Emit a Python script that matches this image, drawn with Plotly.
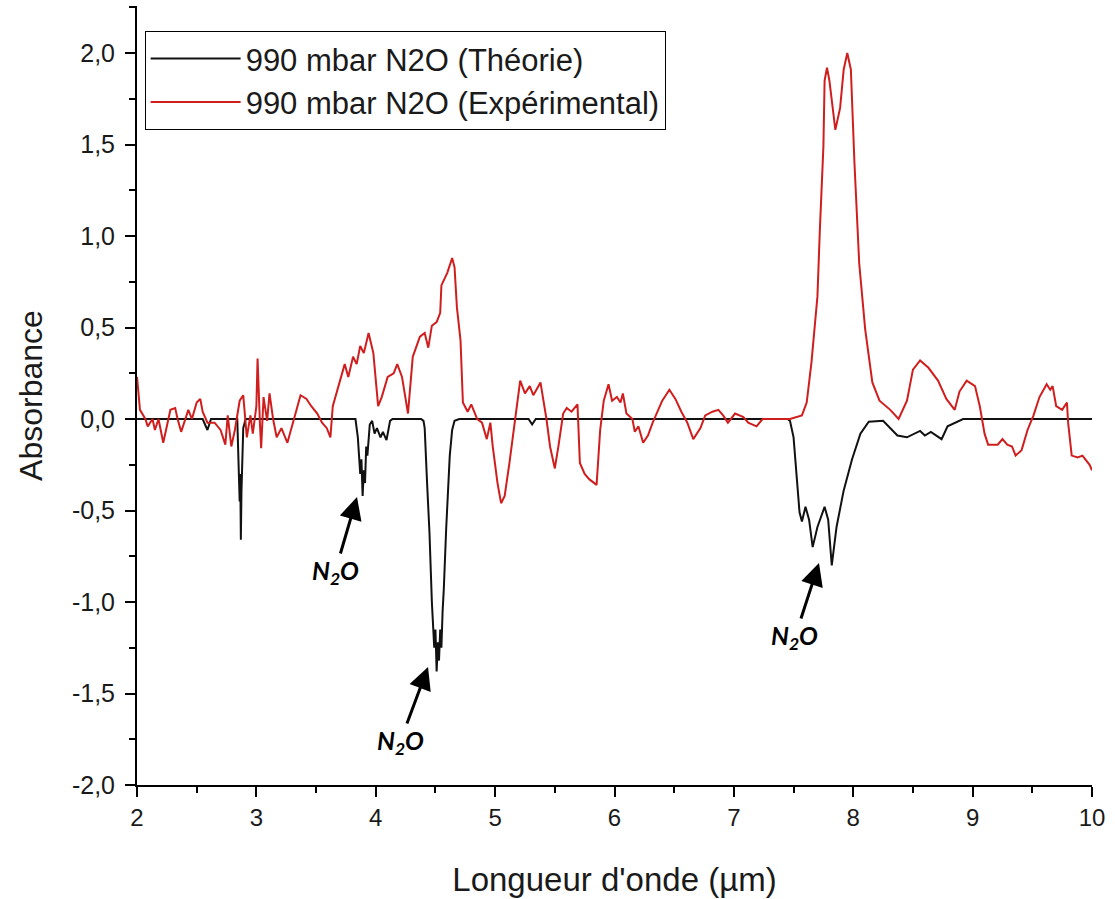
import plotly.graph_objects as go

# ---- data ----
theo_x = [2.00, 2.55, 2.59, 2.62, 2.84, 2.85, 2.86, 2.865, 2.87, 2.875, 2.88, 2.89, 2.91,
          3.83, 3.85, 3.87, 3.88, 3.89, 3.90, 3.91, 3.92, 3.93, 3.95, 3.97, 3.99, 4.01, 4.04,
          4.06, 4.09, 4.12, 4.14, 4.38, 4.40, 4.41, 4.43, 4.45, 4.47, 4.48, 4.49, 4.50, 4.505,
          4.51, 4.52, 4.53, 4.54, 4.55, 4.56, 4.57, 4.59, 4.60, 4.62, 4.64, 4.66, 4.70,
          5.28, 5.31, 5.34, 7.45, 7.47, 7.50, 7.52, 7.55, 7.57, 7.60, 7.63, 7.66, 7.70, 7.76,
          7.79, 7.82, 7.86, 7.92, 7.99, 8.06, 8.13, 8.25, 8.37, 8.45, 8.56, 8.60, 8.65, 8.74,
          8.79, 8.92, 10.0]
theo_y = [0.0, 0.0, -0.06, 0.0, 0.0, -0.20, -0.45, -0.30, -0.66, -0.40, -0.20, -0.05, 0.0,
          0.0, -0.10, -0.30, -0.22, -0.42, -0.28, -0.35, -0.15, -0.20, -0.03, -0.01, -0.08, -0.05, -0.10,
          -0.07, -0.115, -0.01, 0.0, 0.0, -0.01, -0.05, -0.35, -0.62, -1.00, -1.10, -1.25, -1.15, -1.30,
          -1.38, -1.22, -1.32, -1.15, -1.25, -1.05, -0.93, -0.60, -0.44, -0.20, -0.06, -0.01, 0.0,
          0.0, -0.03, 0.0, 0.0, -0.01, -0.10, -0.26, -0.51, -0.56, -0.48, -0.55, -0.70, -0.59, -0.48,
          -0.55, -0.80, -0.59, -0.39, -0.22, -0.08, -0.015, -0.01, -0.09, -0.10, -0.065, -0.09, -0.07, -0.11,
          -0.04, 0.0, 0.0]

exp_x = [2.00, 2.025, 2.07, 2.09, 2.13, 2.15, 2.18, 2.22, 2.25, 2.28, 2.32, 2.34, 2.37, 2.40,
         2.43, 2.46, 2.50, 2.53, 2.55, 2.59, 2.65, 2.70, 2.74, 2.76, 2.79, 2.82, 2.86, 2.89,
         2.92, 2.95, 2.97, 3.00, 3.01, 3.03, 3.04, 3.06, 3.09, 3.11, 3.14, 3.17, 3.21, 3.26,
         3.30, 3.34, 3.37, 3.42, 3.46, 3.51, 3.55, 3.59, 3.62, 3.64, 3.70, 3.74, 3.77, 3.81,
         3.84, 3.87, 3.90, 3.94, 3.98, 4.02, 4.05, 4.10, 4.15, 4.18, 4.22, 4.27, 4.31, 4.37,
         4.41, 4.44, 4.47, 4.51, 4.54, 4.55, 4.60, 4.64, 4.66, 4.68, 4.71, 4.73, 4.77, 4.80,
         4.85, 4.89, 4.93, 4.96, 4.98, 5.02, 5.05, 5.08, 5.12, 5.15, 5.18, 5.21, 5.25, 5.29,
         5.32, 5.38, 5.40, 5.43, 5.46, 5.50, 5.53, 5.57, 5.60, 5.64, 5.69, 5.71, 5.75, 5.79,
         5.85, 5.88, 5.91, 5.95, 5.98, 6.02, 6.05, 6.07, 6.10, 6.15, 6.17, 6.20, 6.24, 6.28,
         6.32, 6.40, 6.46, 6.51, 6.56, 6.61, 6.66, 6.72, 6.76, 6.82, 6.87, 6.91, 6.95, 7.01,
         7.08, 7.12, 7.19, 7.24, 7.33, 7.47, 7.57, 7.61, 7.65, 7.70, 7.72, 7.75, 7.76, 7.78,
         7.80, 7.85, 7.89, 7.92, 7.95, 7.98, 8.01, 8.05, 8.10, 8.16, 8.22, 8.31, 8.38, 8.45,
         8.50, 8.56, 8.63, 8.71, 8.78, 8.85, 8.89, 8.95, 9.02, 9.06, 9.10, 9.13, 9.21, 9.25,
         9.29, 9.33, 9.36, 9.41, 9.46, 9.51, 9.56, 9.62, 9.65, 9.67, 9.70, 9.75, 9.79, 9.80,
         9.83, 9.88, 9.92, 9.98, 10.0]
exp_y = [0.23, 0.05, 0.0, -0.04, 0.0, -0.06, 0.0, -0.13, -0.04, 0.05, 0.06, 0.0, -0.07, -0.01,
         0.05, 0.0, 0.09, 0.11, 0.04, -0.02, -0.02, -0.06, -0.14, 0.02, -0.15, -0.06, 0.10, 0.13,
         -0.10, 0.02, -0.08, 0.07, 0.33, -0.03, -0.16, 0.12, -0.01, 0.14, 0.0, -0.10, -0.05, -0.13,
         -0.03, 0.07, 0.13, 0.11, 0.07, 0.03, -0.02, -0.05, -0.10, 0.07, 0.20, 0.30, 0.23, 0.34,
         0.30, 0.40, 0.36, 0.47, 0.36, 0.07, 0.12, 0.23, 0.25, 0.30, 0.23, 0.03, 0.34, 0.45,
         0.47, 0.39, 0.51, 0.53, 0.58, 0.73, 0.80, 0.88, 0.83, 0.61, 0.43, 0.09, 0.04, 0.08,
         0.0, -0.02, -0.11, -0.02, -0.15, -0.35, -0.46, -0.42, -0.24, -0.08, 0.06, 0.21, 0.14, 0.18,
         0.13, 0.20, 0.12, 0.0, -0.15, -0.27, -0.15, 0.03, 0.06, 0.04, 0.08, -0.24, -0.30, -0.33,
         -0.36, -0.06, 0.10, 0.19, 0.10, 0.12, 0.09, 0.14, 0.03, 0.0, -0.07, -0.04, -0.13, -0.09,
         -0.02, 0.10, 0.16, 0.11, 0.04, -0.02, -0.11, -0.05, 0.02, 0.04, 0.05, 0.02, -0.02, 0.03,
         0.01, -0.02, -0.04, 0.0, 0.0, 0.0, 0.02, 0.09, 0.31, 0.67, 1.03, 1.49, 1.85, 1.92,
         1.85, 1.58, 1.70, 1.91, 2.00, 1.91, 1.40, 0.85, 0.49, 0.20, 0.10, 0.05, 0.0, 0.10,
         0.27, 0.32, 0.28, 0.21, 0.11, 0.05, 0.15, 0.21, 0.18, 0.07, -0.08, -0.14, -0.14, -0.11,
         -0.14, -0.15, -0.20, -0.17, -0.06, 0.02, 0.12, 0.19, 0.16, 0.18, 0.07, 0.05, 0.09, -0.02,
         -0.20, -0.21, -0.20, -0.25, -0.28]

series_names = ["990 mbar N2O (Théorie)", "990 mbar N2O (Expérimental)"]
label_text = "N<sub>2</sub>O"
label_x = [3.843, 4.438, 7.713]
label_y = [-0.426, -1.355, -0.787]

x_ticks = list(range(2, 11))
y_ticks = [-2.0, -1.5, -1.0, -0.5, 0.0, 0.5, 1.0, 1.5, 2.0]
y_ticktext = [f"{v:.1f}".replace(".", ",") for v in y_ticks]

FONT = "Liberation Sans, Arial, sans-serif"
TXT = "#1a1a1a"

fig = go.Figure()
fig.add_trace(go.Scatter(x=theo_x, y=theo_y, mode="lines", name=series_names[0],
                         line=dict(color="#111111", width=2)))
fig.add_trace(go.Scatter(x=exp_x, y=exp_y, mode="lines", name=series_names[1],
                         line=dict(color="#d01e1e", width=2)))

offsets = [(-22, 75), (-28, 75), (-24, 74)]
for (xx, yy), (ax, ay) in zip(zip(label_x, label_y), offsets):
    fig.add_annotation(x=xx, y=yy, ax=ax, ay=ay, text="<b><i>" + label_text + "</i></b>",
                       showarrow=True, arrowhead=2, arrowsize=1.5, arrowwidth=3,
                       arrowcolor="black",
                       font=dict(family="Lato, Open Sans, sans-serif", size=25, color="black"))

fig.update_layout(
    width=1115, height=899,
    margin=dict(l=137, r=23, t=6, b=114),
    paper_bgcolor="white", plot_bgcolor="white",
    font=dict(family=FONT, color=TXT),
    showlegend=True,
    legend=dict(x=0.008, y=0.968, xanchor="left", yanchor="top",
                bgcolor="white", bordercolor="black", borderwidth=1,
                font=dict(family=FONT, size=31, color=TXT),
                tracegroupgap=0, itemwidth=90),
    xaxis=dict(range=[2, 10], tickvals=x_ticks, ticktext=[str(v) for v in x_ticks],
               showgrid=False, zeroline=False, showline=True, linecolor="black", linewidth=2,
               ticks="outside", ticklen=10, tickwidth=2, tickcolor="black",
               minor=dict(dtick=0.5, ticks="outside", ticklen=6, tickwidth=2, tickcolor="black"),
               tickfont=dict(family=FONT, size=24, color=TXT),
               title=dict(text="Longueur d'onde (µm)", font=dict(family=FONT, size=33, color=TXT),
                          standoff=38)),
    yaxis=dict(range=[-2.0, 2.257], tickvals=y_ticks, ticktext=y_ticktext,
               showgrid=False, zeroline=False, showline=True, linecolor="black", linewidth=2,
               ticks="outside", ticklen=10, tickwidth=2, tickcolor="black",
               ticklabelstandoff=5,
               minor=dict(dtick=0.25, ticks="outside", ticklen=6, tickwidth=2, tickcolor="black"),
               tickfont=dict(family=FONT, size=25, color=TXT),
               title=dict(text="Absorbance", font=dict(family=FONT, size=32, color=TXT),
                          standoff=20)),
    xaxis2=dict(overlaying="x", side="top", range=[-0.6766, 2.475], dtick=1,
                showgrid=False, zeroline=False, showline=True, linecolor="black", linewidth=2,
                ticks="inside", ticklen=10, tickwidth=2, tickcolor="black", showticklabels=False,
                minor=dict(dtick=0.5, ticks="inside", ticklen=6, tickwidth=2, tickcolor="black")),
    yaxis2=dict(overlaying="y", side="right", range=[-1, 4], dtick=1,
                showgrid=False, zeroline=False, showline=True, linecolor="black", linewidth=2,
                ticks="inside", ticklen=10, tickwidth=2, tickcolor="black", showticklabels=False,
                minor=dict(dtick=0.5, ticks="inside", ticklen=6, tickwidth=2, tickcolor="black")),
)

fig.write_html("out.html", config={"displayModeBar": False},
               post_script="document.body.style.margin='0px';")
